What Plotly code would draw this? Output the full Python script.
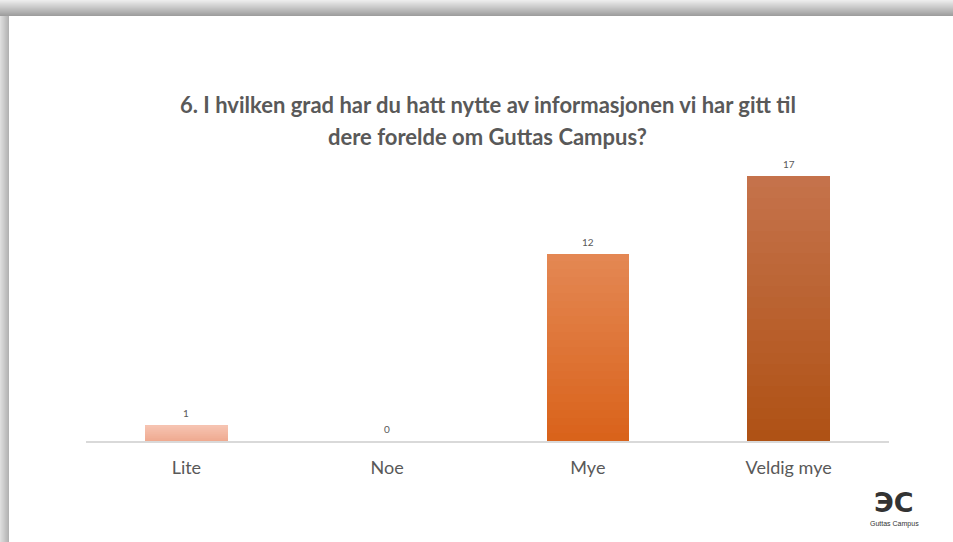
import plotly.graph_objects as go

categories = ["Lite", "Noe", "Mye", "Veldig mye"]
values = [1, 0, 12, 17]
title_lines = ["6. I hvilken grad har du hatt nytte av informasjonen vi har gitt til",
               "dere forelde om Guttas Campus?"]

# bar gradient colours (top, bottom) per category
top_cols = [(246, 196, 178), (246, 196, 178), (228, 136, 84), (197, 115, 76)]
bot_cols = [(239, 168, 142), (239, 168, 142), (217, 98, 26), (175, 81, 20)]

W, H = 953, 542
L, R, T, B = 86, 64, 160, 101
PW, PH = W - L - R, H - T - B

def px_x(px):
    return (px - L) / PW

def px_y(py):
    return (H - B - py) / PH

def mix(c1, c2, t):
    return "rgb(%d,%d,%d)" % tuple(round(a + (b - a) * t) for a, b in zip(c1, c2))

fig = go.Figure()

N = 24
for i in range(N):
    t = (i + 0.5) / N  # 0 bottom -> 1 top
    fig.add_trace(go.Bar(
        x=categories,
        y=[v / N for v in values],
        marker=dict(color=[mix(b, tp, t) for b, tp in zip(bot_cols, top_cols)], line=dict(width=0)),
        showlegend=False,
        hoverinfo="skip",
    ))

shapes = []
# top shadow band
light, dark = (236, 236, 236), (158, 158, 158)
for i in range(16):
    t = i / 15
    shapes.append(dict(type="rect", xref="paper", yref="paper",
                       x0=px_x(0), x1=px_x(W), y0=px_y(i), y1=px_y(i + 1),
                       fillcolor=mix(light, dark, t), line=dict(width=0), layer="below"))
# left shadow band
lightl, darkl = (222, 222, 222), (178, 178, 178)
for i in range(9):
    t = i / 8
    shapes.append(dict(type="rect", xref="paper", yref="paper",
                       x0=px_x(i), x1=px_x(i + 1), y0=px_y(16), y1=px_y(H),
                       fillcolor=mix(lightl, darkl, t), line=dict(width=0), layer="below"))

annotations = [
    dict(text="<b>%s</b>" % title_lines[0], xref="paper", yref="paper", x=0.5, y=px_y(104.5),
         xanchor="center", yanchor="middle", showarrow=False,
         font=dict(family="Lato, sans-serif", size=22, color="#595959")),
    dict(text="<b>%s</b>" % title_lines[1], xref="paper", yref="paper", x=0.5, y=px_y(137),
         xanchor="center", yanchor="middle", showarrow=False,
         font=dict(family="Lato, sans-serif", size=22, color="#595959")),
    dict(text="<b>ЭC</b>", xref="paper", yref="paper", x=px_x(894), y=px_y(502),
         xanchor="center", yanchor="middle", showarrow=False, borderpad=0,
         font=dict(family="DejaVu Sans, sans-serif", size=27, color="#333333")),
    dict(text="Guttas Campus", xref="paper", yref="paper", x=px_x(894), y=px_y(524),
         xanchor="center", yanchor="middle", showarrow=False, borderpad=0,
         font=dict(family="Liberation Sans, sans-serif", size=7, color="#333333")),
]

# data labels, positioned on the data scale
for c, v in zip(categories, values):
    annotations.append(dict(text=str(v), x=c, y=v, xref="x", yref="y",
                            xanchor="center", yanchor="bottom", yshift=4, showarrow=False,
                            font=dict(family="Lato, sans-serif", size=10, color="#595959")))

fig.update_layout(
    width=W, height=H,
    margin=dict(l=L, r=R, t=T, b=B),
    paper_bgcolor="white", plot_bgcolor="white",
    barmode="stack", bargap=0.59,
    shapes=shapes, annotations=annotations,
    xaxis=dict(showgrid=False, showline=True, linecolor="#D9D9D9", linewidth=2,
               ticks="", ticklabelstandoff=9,
               tickfont=dict(family="Lato, sans-serif", size=18, color="#595959"),
               fixedrange=True),
    yaxis=dict(range=[0, 18], visible=False, fixedrange=True),
)

fig.write_html("out.html", config={"displayModeBar": False},
               post_script="document.body.style.margin='0';document.body.style.overflow='hidden';")
